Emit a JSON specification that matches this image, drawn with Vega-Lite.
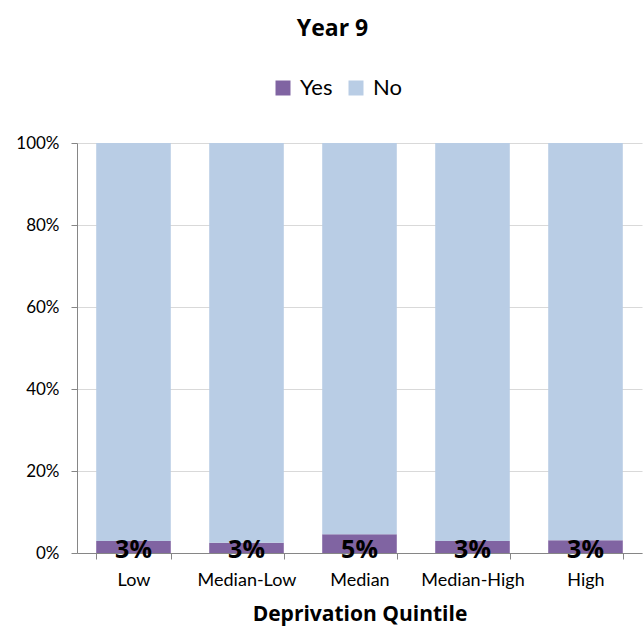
{
  "$schema": "https://vega.github.io/schema/vega-lite/v6.json",
  "width": 565,
  "height": 410,
  "autosize": {"type": "none"},
  "padding": {"left": 77, "top": 143, "right": 1, "bottom": 79},
  "background": "white",
  "config": {"font": "Lato", "view": {"stroke": null}},
  "title": {"text": "Year 9", "fontSize": 23, "fontWeight": "bold", "font": "Open Sans", "color": "#000000", "anchor": "middle", "offset": 36, "dx": -27},
  "datasets": {
    "bars": [
      {"quintile": "Low", "response": "Yes", "order": 1, "share": 0.029},
      {"quintile": "Low", "response": "No", "order": 2, "share": 0.971},
      {"quintile": "Median-Low", "response": "Yes", "order": 1, "share": 0.025},
      {"quintile": "Median-Low", "response": "No", "order": 2, "share": 0.975},
      {"quintile": "Median", "response": "Yes", "order": 1, "share": 0.046},
      {"quintile": "Median", "response": "No", "order": 2, "share": 0.954},
      {"quintile": "Median-High", "response": "Yes", "order": 1, "share": 0.029},
      {"quintile": "Median-High", "response": "No", "order": 2, "share": 0.971},
      {"quintile": "High", "response": "Yes", "order": 1, "share": 0.031},
      {"quintile": "High", "response": "No", "order": 2, "share": 0.969}
    ],
    "labels": [
      {"quintile": "Low", "label": "3%"},
      {"quintile": "Median-Low", "label": "3%"},
      {"quintile": "Median", "label": "5%"},
      {"quintile": "Median-High", "label": "3%"},
      {"quintile": "High", "label": "3%"}
    ]
  },
  "layer": [
    {
      "data": {"name": "bars"},
      "mark": {"type": "bar"},
      "encoding": {
        "x": {
          "field": "quintile", "type": "nominal",
          "sort": ["Low", "Median-Low", "Median", "Median-High", "High"],
          "scale": {"paddingInner": 0.34, "paddingOuter": 0.17},
          "axis": {
            "title": "Deprivation Quintile", "titleFontSize": 21, "titleFontWeight": "bold", "titleFont": "Open Sans", "titleColor": "#000000", "titlePadding": 14,
            "labelAngle": 0, "labelFontSize": 18, "labelColor": "#000000", "labelPadding": 12,
            "tickBand": "extent", "tickSize": 6, "tickColor": "#868686", "domainColor": "#868686", "grid": false
          }
        },
        "y": {
          "field": "share", "type": "quantitative", "stack": "zero",
          "scale": {"domain": [0, 1], "nice": false},
          "axis": {
            "title": null, "format": ".0%", "values": [0, 0.2, 0.4, 0.6, 0.8, 1],
            "labelFontSize": 17, "labelColor": "#000000", "labelPadding": 12,
            "tickSize": 6, "tickColor": "#868686", "domainColor": "#868686",
            "grid": true, "gridColor": "#D9D9D9"
          }
        },
        "color": {
          "field": "response", "type": "nominal",
          "scale": {"domain": ["Yes", "No"], "range": ["#8064A2", "#B9CDE5"]},
          "legend": {
            "title": null, "orient": "none", "direction": "horizontal", "legendX": 195, "legendY": -66,
            "symbolType": "square", "symbolSize": 225, "symbolStrokeWidth": 0,
            "labelFontSize": 22, "labelColor": "#000000", "columnPadding": 12, "labelOffset": 6
          }
        },
        "order": {"field": "order", "type": "quantitative"}
      }
    },
    {
      "data": {"name": "labels"},
      "mark": {"type": "text", "fontSize": 25, "fontWeight": "bold", "font": "Open Sans", "color": "#000000", "baseline": "alphabetic", "dy": 5},
      "encoding": {
        "x": {"field": "quintile", "type": "nominal", "sort": ["Low", "Median-Low", "Median", "Median-High", "High"]},
        "y": {"datum": 0},
        "text": {"field": "label"}
      }
    }
  ]
}
